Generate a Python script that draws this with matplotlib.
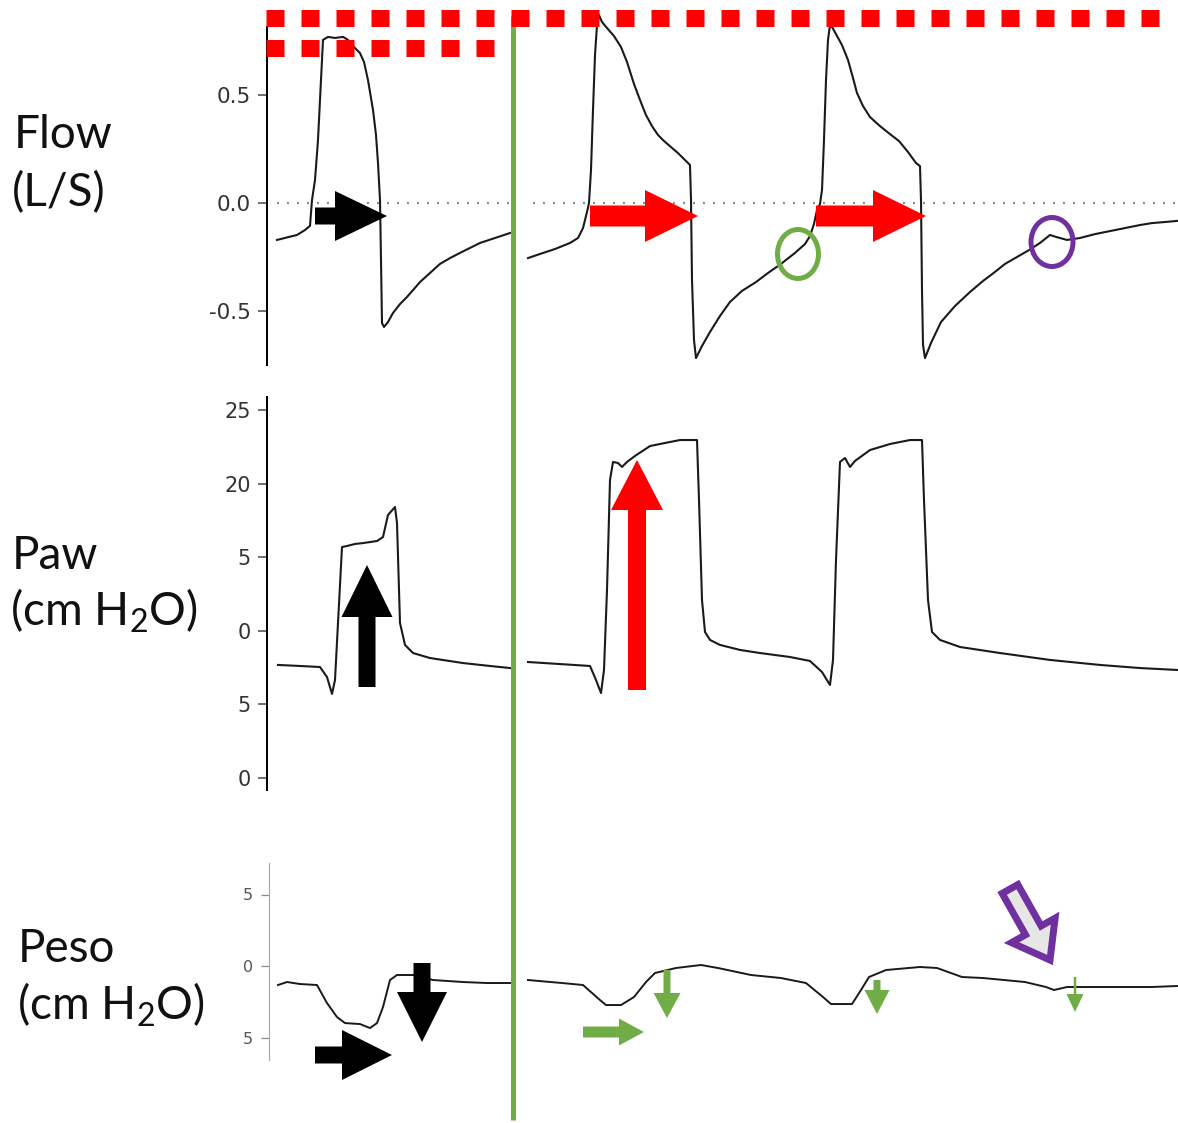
import numpy as np
import matplotlib
matplotlib.use("Agg")
import matplotlib.pyplot as plt
from matplotlib.patches import Polygon, Ellipse

W, H = 1178, 1123

# ---------------- data (time in s) ----------------
flow_left_t = [0.10, 0.30, 0.38, 0.43, 0.45, 0.48, 0.51, 0.53, 0.55, 0.56, 0.61, 0.68, 0.76, 0.81,
               0.86, 0.93, 0.97, 1.01, 1.06, 1.09, 1.11, 1.13, 1.14, 1.15, 1.17, 1.21, 1.26, 1.33,
               1.40, 1.47, 1.53, 1.63, 1.73, 1.83, 1.93, 2.03, 2.13, 2.28, 2.43]
flow_left_v = [-0.171, -0.148, -0.125, -0.106, 0.014, 0.106, 0.292, 0.477, 0.662, 0.755, 0.769,
               0.764, 0.769, 0.755, 0.727, 0.694, 0.653, 0.569, 0.431, 0.315, 0.185, 0.014,
               -0.264, -0.556, -0.574, -0.551, -0.509, -0.468, -0.435, -0.398, -0.366, -0.324,
               -0.282, -0.255, -0.231, -0.208, -0.185, -0.162, -0.139]

flow_right_t = [2.61, 2.73, 2.88, 3.03, 3.11, 3.16, 3.20, 3.22, 3.24, 3.26, 3.28, 3.30, 3.32, 3.35,
                3.40, 3.47, 3.54, 3.60, 3.67, 3.73, 3.79, 3.85, 3.91, 3.97, 4.04, 4.11, 4.18, 4.23,
                4.24, 4.25, 4.27, 4.29, 4.35, 4.43, 4.53, 4.63, 4.75, 4.89, 5.01, 5.14, 5.28, 5.38,
                5.43, 5.47, 5.50, 5.53, 5.55, 5.57, 5.59, 5.61, 5.63, 5.65, 5.69, 5.75, 5.81, 5.86,
                5.90, 5.96, 6.03, 6.13, 6.23, 6.32, 6.41, 6.49, 6.53, 6.54, 6.55, 6.56, 6.58, 6.64,
                6.74, 6.88, 7.03, 7.16, 7.28, 7.38, 7.50, 7.62, 7.73, 7.83, 7.89, 8.00, 8.13, 8.28,
                8.43, 8.58, 8.73, 8.85, 8.98, 9.10]
flow_right_v = [-0.255, -0.236, -0.213, -0.185, -0.162, -0.116, -0.042, 0.000, 0.153, 0.431, 0.685,
                0.824, 0.870, 0.838, 0.810, 0.773, 0.722, 0.653, 0.551, 0.477, 0.407, 0.356, 0.315,
                0.287, 0.259, 0.231, 0.199, 0.176, 0.014, -0.356, -0.634, -0.718, -0.662, -0.597,
                -0.523, -0.458, -0.407, -0.366, -0.324, -0.282, -0.231, -0.190, -0.153, -0.097,
                -0.032, -0.005, 0.060, 0.292, 0.569, 0.755, 0.824, 0.815, 0.782, 0.731, 0.662,
                0.579, 0.509, 0.449, 0.398, 0.356, 0.319, 0.287, 0.236, 0.185, 0.171, 0.014,
                -0.403, -0.657, -0.718, -0.648, -0.551, -0.477, -0.412, -0.361, -0.319, -0.282,
                -0.250, -0.218, -0.185, -0.148, -0.157, -0.171, -0.162, -0.144, -0.130, -0.116,
                -0.102, -0.093, -0.088, -0.083]

paw_left_t = [0.11, 0.33, 0.53, 0.60, 0.65, 0.68, 0.71, 0.75, 0.80, 0.88, 0.96, 1.03, 1.10, 1.16,
              1.21, 1.28, 1.30, 1.33, 1.38, 1.46, 1.63, 1.96, 2.23, 2.43]
paw_left_v = [7.68, 7.61, 7.54, 6.86, 5.71, 6.66, 10.53, 15.69, 15.76, 15.90, 15.96, 16.03, 16.10,
              16.37, 17.87, 18.41, 17.32, 10.53, 9.04, 8.49, 8.15, 7.81, 7.61, 7.47]

paw_right_t = [2.61, 2.93, 3.23, 3.29, 3.34, 3.37, 3.40, 3.43, 3.46, 3.51, 3.55, 3.60, 3.68, 3.83,
               3.98, 4.13, 4.30, 4.32, 4.35, 4.38, 4.43, 4.53, 4.73, 4.93, 5.23, 5.43, 5.55, 5.63,
               5.66, 5.69, 5.73, 5.78, 5.83, 5.88, 6.03, 6.23, 6.43, 6.55, 6.57, 6.61, 6.65, 6.73,
               6.93, 7.33, 7.83, 8.33, 8.73, 9.10]
paw_right_v = [7.88, 7.74, 7.61, 6.66, 5.77, 7.34, 12.77, 20.24, 21.47, 21.40, 21.13, 21.47, 21.88,
               22.55, 22.76, 22.96, 22.96, 18.89, 12.09, 9.92, 9.38, 9.04, 8.70, 8.49, 8.22, 7.95,
               7.20, 6.32, 8.02, 14.81, 21.47, 21.74, 21.13, 21.54, 22.28, 22.69, 22.96, 22.96,
               18.89, 12.09, 9.92, 9.38, 8.90, 8.49, 8.02, 7.68, 7.47, 7.34]

peso_left_t = [0.11, 0.20, 0.33, 0.50, 0.60, 0.70, 0.78, 0.93, 1.03, 1.10, 1.16, 1.23, 1.30, 1.46,
               1.66, 1.96, 2.20, 2.43]
peso_left_v = [-1.33, -1.12, -1.26, -1.33, -2.59, -3.57, -3.99, -4.06, -4.34, -3.99, -2.87, -0.98,
               -0.63, -0.63, -0.98, -1.12, -1.19, -1.19]

peso_right_t = [2.61, 2.95, 3.16, 3.33, 3.39, 3.54, 3.67, 3.79, 3.88, 4.09, 4.34, 4.51, 4.84, 5.14,
                5.39, 5.56, 5.64, 5.85, 5.94, 6.02, 6.19, 6.53, 6.70, 6.95, 7.16, 7.58, 7.79, 7.87,
                8.00, 8.42, 8.84, 9.10]
peso_right_v = [-0.98, -1.19, -1.33, -2.38, -2.73, -2.73, -2.17, -1.12, -0.49, -0.14, 0.07, -0.14,
                -0.63, -0.84, -1.19, -2.17, -2.66, -2.66, -1.68, -0.77, -0.28, -0.07, -0.14, -0.77,
                -0.84, -1.12, -1.47, -1.68, -1.47, -1.47, -1.47, -1.40]

flow_ticks = [-0.5, 0.0, 0.5]
flow_ticklabels = ["-0.5", "0.0", "0.5"]
paw_ticks = [0, 5, 10, 15, 20, 25]
paw_ticklabels = ["0", "5", "0", "5", "20", "25"]
peso_ticks = [-5, 0, 5]
peso_ticklabels = ["5", "0", "5"]

# ---------------- style ----------------
plt.rcParams['mathtext.fontset'] = 'custom'
plt.rcParams['mathtext.rm'] = 'Lato'
plt.rcParams['mathtext.it'] = 'Lato:italic'
plt.rcParams['lines.scale_dashes'] = False

RED = '#FF0000'
GREEN = '#70AD47'
PURPLE = '#7030A0'
TRACE = '#1a1a1a'
PT = 0.72  # points per pixel

fig = plt.figure(figsize=(W / 100, H / 100), dpi=100)
fig.patch.set_facecolor('white')

XL = 267
TMAX = (W - XL) / 100.0


def band_axes(top_px, bottom_px, left_px=XL):
    ax = fig.add_axes([left_px / W, 1 - bottom_px / H, (W - left_px) / W, (bottom_px - top_px) / H])
    ax.patch.set_alpha(0)
    for s in ['top', 'right', 'bottom']:
        ax.spines[s].set_visible(False)
    ax.set_xticks([])
    ax.set_xlim(0, TMAX)
    return ax


# Flow
axf = band_axes(0, 380)
axf.set_ylim((203 - 380) / 216, 203 / 216)
axf.spines['left'].set_bounds(-0.75, 0.815)
axf.spines['left'].set_linewidth(2 * PT)
axf.set_yticks(flow_ticks)
axf.set_yticklabels(flow_ticklabels)
axf.tick_params(axis='y', length=9 * PT, width=1.5 * PT, pad=7 * PT, labelsize=15.5,
                colors='#444444', labelcolor='#333333')
axf.plot([flow_left_t[0], flow_left_t[-1]], [0, 0], color='#8a8a8a', lw=1.6,
         ls=(0, (1.4, 5.8)))
axf.plot([flow_right_t[0] + 0.05, TMAX], [0, 0], color='#8a8a8a', lw=1.6,
         ls=(0, (1.4, 5.8)))
axf.plot(flow_left_t, flow_left_v, color=TRACE, lw=1.5, clip_on=False)
axf.plot(flow_right_t, flow_right_v, color=TRACE, lw=1.5, clip_on=False)

# Paw
axp = band_axes(380, 800)
axp.set_ylim((778 - 800) / 14.72, (778 - 380) / 14.72)
axp.spines['left'].set_bounds(-0.8, 25.9)
axp.spines['left'].set_linewidth(2 * PT)
axp.set_yticks(paw_ticks)
axp.set_yticklabels(paw_ticklabels)
axp.tick_params(axis='y', length=9 * PT, width=1.5 * PT, pad=7 * PT, labelsize=15,
                colors='#444444', labelcolor='#333333')
axp.plot(paw_left_t, paw_left_v, color=TRACE, lw=1.5)
axp.plot(paw_right_t, paw_right_v, color=TRACE, lw=1.5)

# Peso (spine sits 2 px further right)
axe = band_axes(800, 1123)
axe.set_ylim((966 - 1123) / 14.3, (966 - 800) / 14.3)
axe.spines['left'].set_position(('data', 0.02))
axe.spines['left'].set_bounds(-6.57, 7.2)
axe.spines['left'].set_linewidth(1.2 * PT)
axe.spines['left'].set_color('#aaaaaa')
axe.set_yticks(peso_ticks)
axe.set_yticklabels(peso_ticklabels)
axe.tick_params(axis='y', length=8 * PT, width=1.2 * PT, pad=8 * PT, labelsize=11.5,
                colors='#888888', labelcolor='#555555')
axe.plot(peso_left_t, peso_left_v, color=TRACE, lw=1.4)
axe.plot(peso_right_t, peso_right_v, color=TRACE, lw=1.4)

# ---------------- overlay annotations (pixel coordinates) ----------------
ov = fig.add_axes([0, 0, 1, 1], zorder=10)
ov.set_xlim(0, W)
ov.set_ylim(H, 0)
ov.axis('off')
ov.patch.set_alpha(0)

# green separator
ov.plot([513, 513], [16, 1120], color=GREEN, lw=5 * PT, solid_capstyle='butt')

# red dotted limit lines
ov.plot([266, 1162], [17.5, 17.5], color=RED, lw=17 * PT,
        ls=(0, (18 * PT, 17 * PT)), dash_capstyle='butt')
ov.plot([266, 494], [47.5, 47.5], color=RED, lw=17 * PT,
        ls=(0, (18 * PT, 17 * PT)), dash_capstyle='butt')


def arrow(x0, y0, x1, y1, sw, hw, hl, fc, ec=None, lw=0):
    d = np.array([x1 - x0, y1 - y0], float)
    L = np.hypot(*d)
    u = d / L
    n = np.array([-u[1], u[0]])
    p0 = np.array([x0, y0], float)
    p1 = np.array([x1, y1], float)
    b = p1 - u * hl
    pts = [p0 + n * sw / 2, b + n * sw / 2, b + n * hw / 2, p1,
           b - n * hw / 2, b - n * sw / 2, p0 - n * sw / 2]
    ov.add_patch(Polygon(pts, closed=True, facecolor=fc,
                         edgecolor=ec if ec else fc, lw=lw, joinstyle='miter'))


# flow arrows
arrow(315, 216, 387, 216, 17, 50, 52, 'black')
arrow(590, 216, 698, 216, 21, 52, 53, RED)
arrow(816, 216, 926, 216, 21, 52, 53, RED)
# paw arrows
arrow(367, 687, 367, 565, 17, 51, 52, 'black')
arrow(637, 690, 637, 460, 18, 52, 50, RED)
# peso arrows
arrow(315, 1055, 392, 1055, 17, 50, 50, 'black')
arrow(422, 963, 422, 1042, 17, 50, 50, 'black')
arrow(583, 1032, 644, 1032, 11, 27, 25, GREEN)
arrow(667, 970, 667, 1018, 7, 27, 25, GREEN)
arrow(877, 980, 877, 1014, 7, 25, 24, GREEN)
arrow(1075, 977, 1075, 1012, 2.5, 17, 18, GREEN)
arrow(1010, 889, 1050, 960, 18, 50, 34, '#E6E6E6', ec=PURPLE, lw=7 * PT)

# circles
ov.add_patch(Ellipse((798, 254), 41, 49, fill=False, edgecolor=GREEN, lw=5 * PT))
ov.add_patch(Ellipse((1052, 242), 42, 49, fill=False, edgecolor=PURPLE, lw=5 * PT))

# panel labels
lab = dict(fontfamily='Lato', fontsize=33, color='#111111', va='baseline', ha='left')
ov.text(14, 148, 'Flow', **lab)
ov.text(12, 206, '(L/S)', **lab)
ov.text(12, 569, 'Paw', **lab)
ov.text(10, 626, '(cm H$_2$O)', **lab)
ov.text(18, 962, 'Peso', **lab)
ov.text(17, 1020, '(cm H$_2$O)', **lab)

fig.savefig('out.png', dpi=100, facecolor='white')
